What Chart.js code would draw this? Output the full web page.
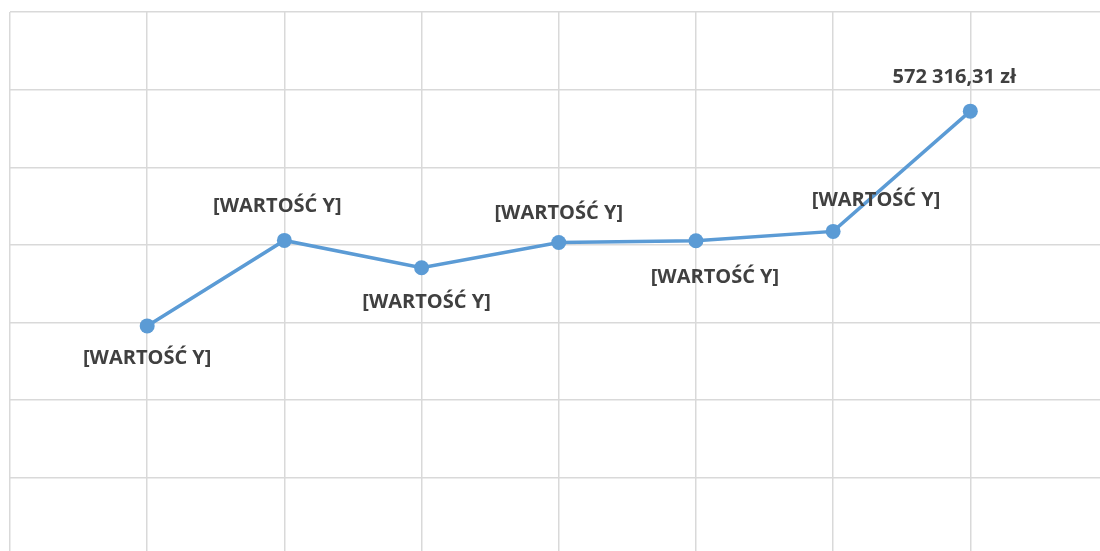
<!DOCTYPE html>
<html>
<head>
<meta charset="utf-8">
<script src="https://cdn.jsdelivr.net/npm/chart.js@4"></script>
<style>
  html, body { margin: 0; padding: 0; background: #fff; overflow: hidden; }
  #wrap { width: 1115px; height: 563px; }
</style>
</head>
<body>
<div id="wrap"><canvas id="myChart" width="1115" height="563"></canvas></div>
<script>
// values (y axis 0 .. 700 000, step 100 000)
const categories = ['1', '2', '3', '4', '5', '6', '7'];
const values = [295700, 405800, 370600, 403200, 405400, 417400, 572316.31];
const pointLabels = ['[WARTOŚĆ Y]', '[WARTOŚĆ Y]', '[WARTOŚĆ Y]', '[WARTOŚĆ Y]',
                     '[WARTOŚĆ Y]', '[WARTOŚĆ Y]', '572 316,31 zł'];
const yTicks = [0, 100000, 200000, 300000, 400000, 500000, 600000, 700000];

// label placement relative to each point (px)
const labelShift = [[0, 32], [-7, -34], [5, 35], [0, -29], [19, 37], [43, -31], [-16, -34]];

const dataLabels = {
    id: 'dataLabels',
    afterDatasetsDraw(chart) {
        const ctx = chart.ctx;
        const meta = chart.getDatasetMeta(0);
        ctx.save();
        ctx.font = 'bold 20px "Open Sans", sans-serif';
        ctx.fillStyle = '#404040';
        ctx.textAlign = 'center';
        ctx.textBaseline = 'middle';
        meta.data.forEach((pt, i) => {
            const s = labelShift[i];
            ctx.fillText(pointLabels[i], pt.x + s[0], pt.y + s[1]);
        });
        ctx.restore();
    }
};

function initLineChart() {
    const ctx = document.getElementById('myChart').getContext('2d');
    new Chart(ctx, {
        type: 'line',
        data: {
            datasets: [{
                label: 'Wartość',
                data: values.map((v, i) => ({ x: i + 1, y: v })),
                borderColor: '#5B9BD5',
                backgroundColor: '#5B9BD5',
                borderWidth: 3.5,
                pointRadius: 7.5,
                pointHoverRadius: 7.5,
                pointBorderWidth: 0,
                tension: 0
            }]
        },
        options: {
            responsive: false,
            animation: false,
            layout: { padding: { left: 10, top: 12, right: 0, bottom: 0 } },
            plugins: {
                legend: { display: false },
                tooltip: { enabled: false }
            },
            scales: {
                x: {
                    type: 'linear',
                    min: 0,
                    max: categories.length + 1,
                    ticks: { display: false, stepSize: 1 },
                    grid: { color: '#D9D9D9', lineWidth: 1.5, drawTicks: false },
                    border: { display: false }
                },
                y: {
                    min: yTicks[0],
                    max: yTicks[yTicks.length - 1],
                    ticks: { display: false, stepSize: yTicks[1] - yTicks[0] },
                    grid: { color: '#D9D9D9', lineWidth: 1.5, drawTicks: false },
                    border: { display: false }
                }
            }
        },
        plugins: [dataLabels]
    });
}

document.addEventListener('DOMContentLoaded', initLineChart);
</script>
</body>
</html>
